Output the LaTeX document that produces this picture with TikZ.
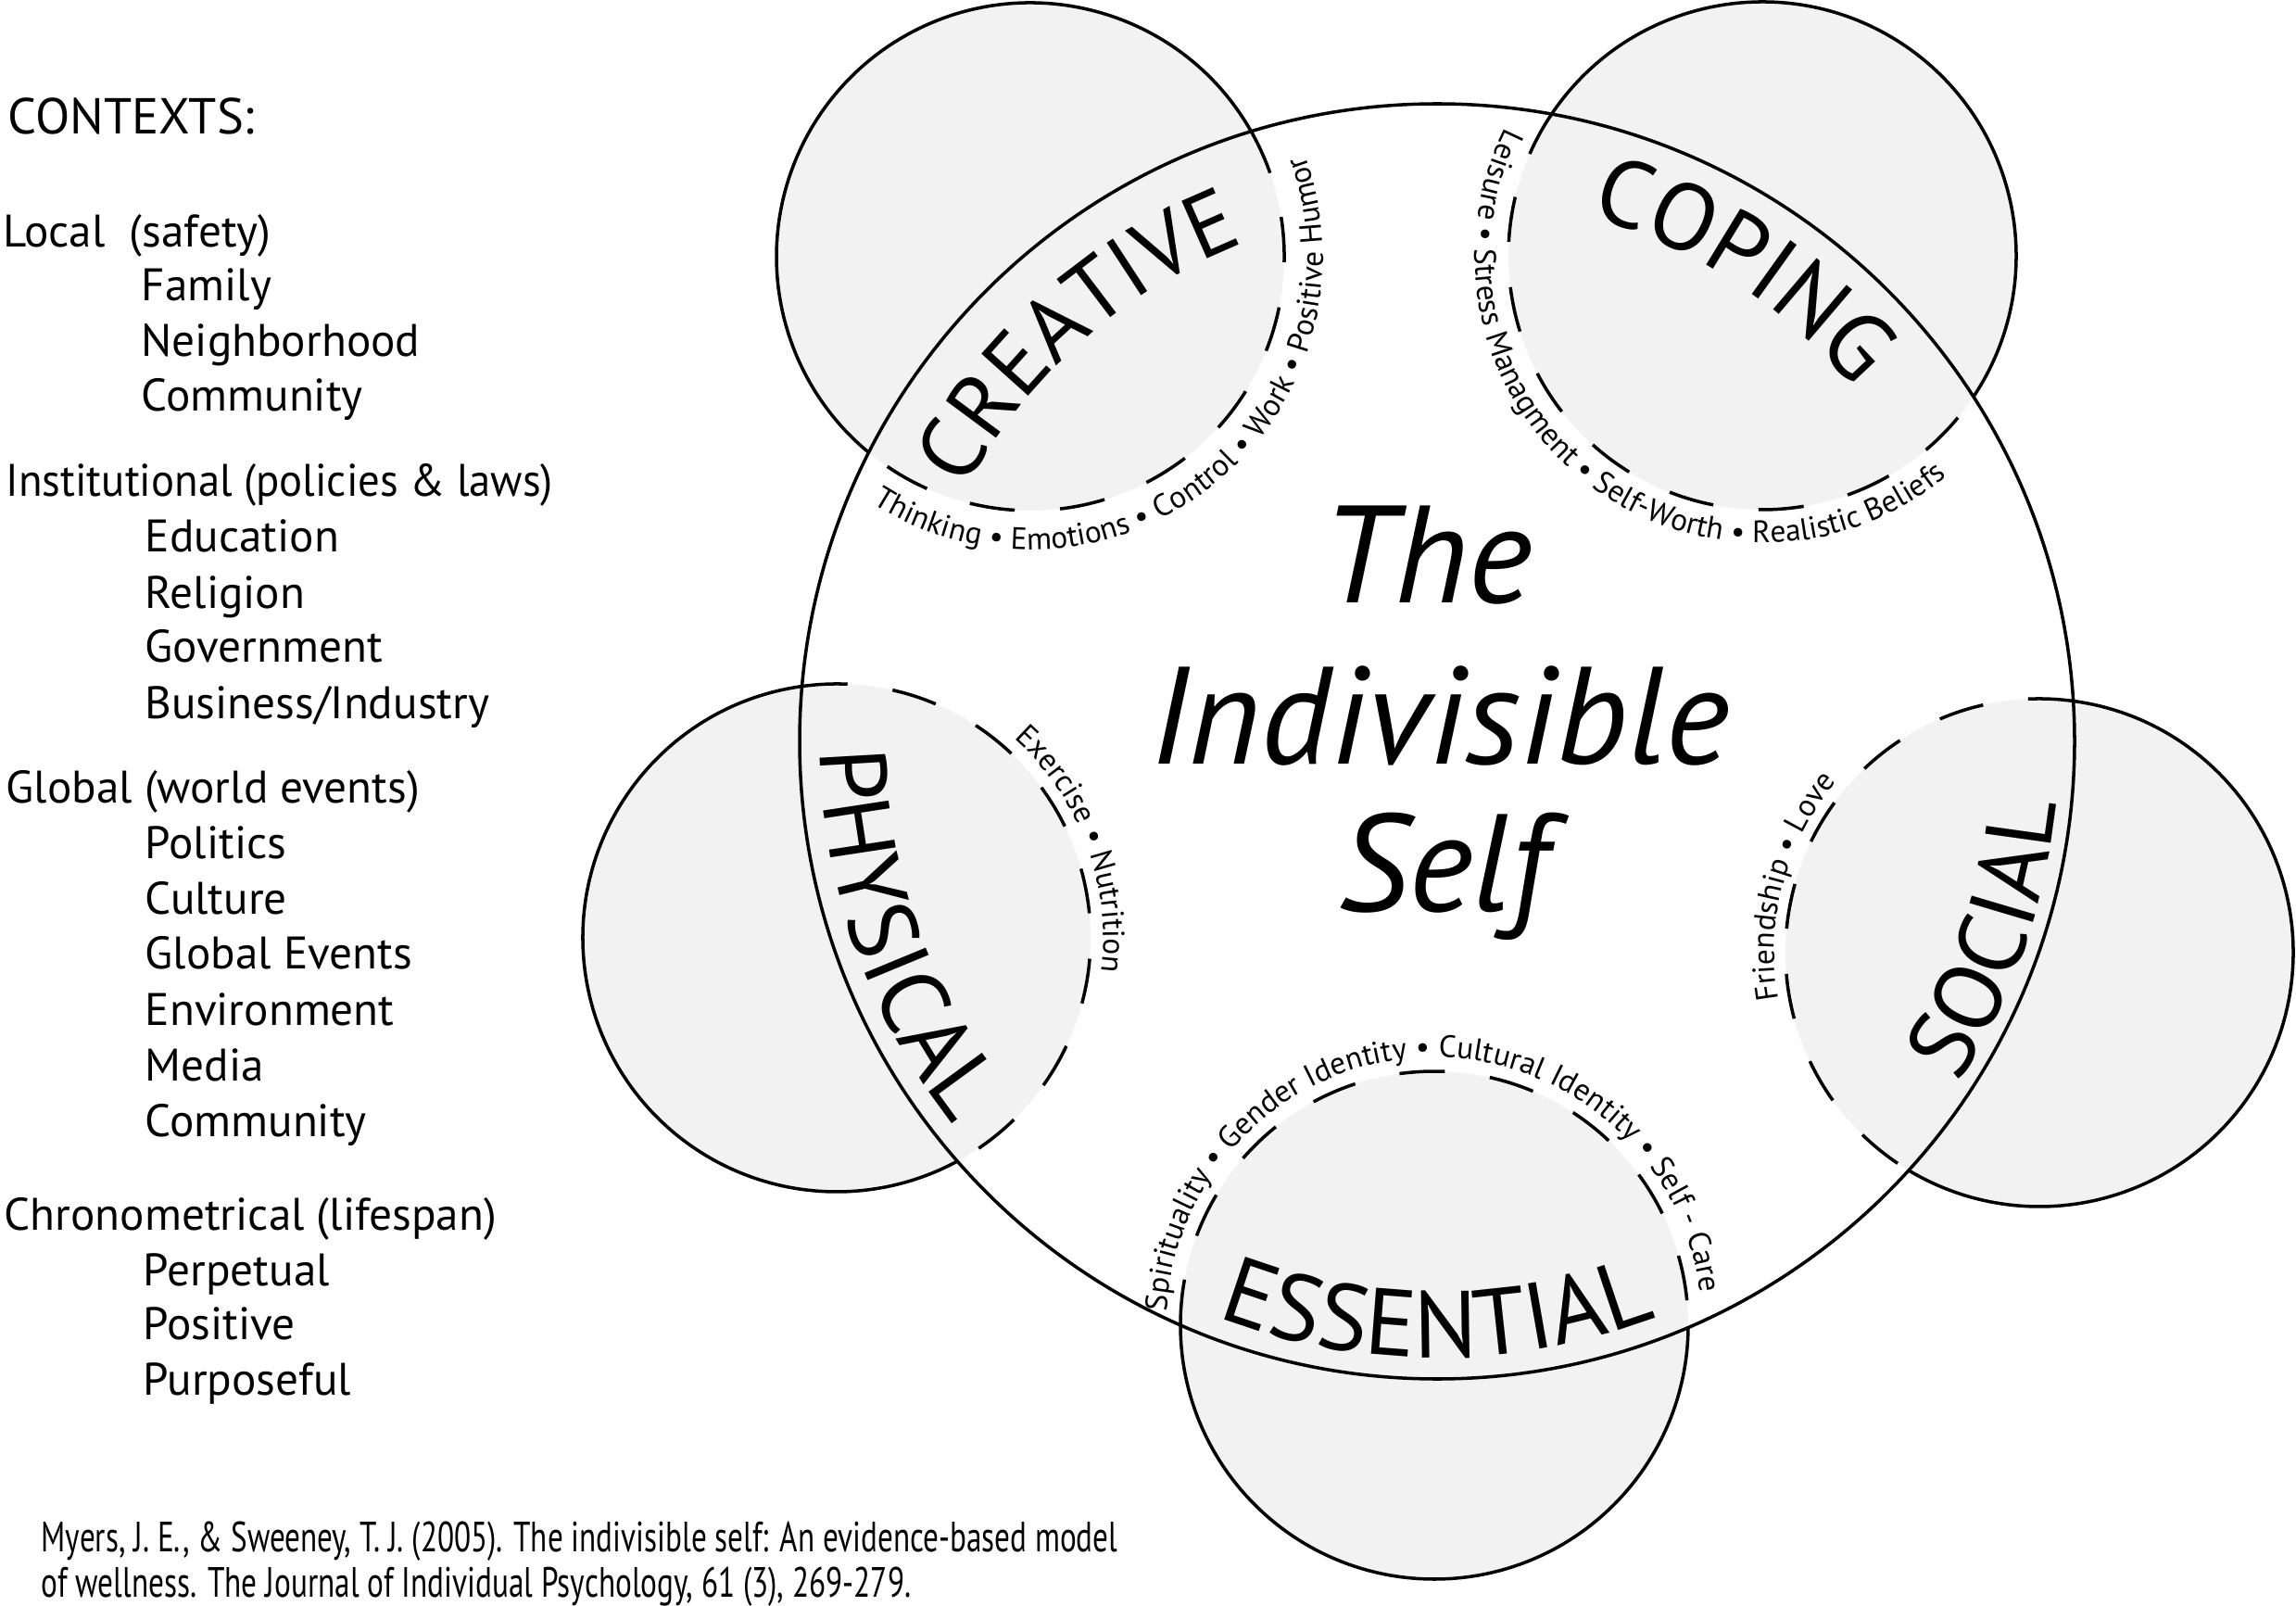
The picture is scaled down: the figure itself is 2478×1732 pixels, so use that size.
\documentclass[tikz,border=0pt]{standalone}
\usepackage{fontspec}
\setmainfont{PT Sans}
\usepackage{graphicx}
\usetikzlibrary{decorations.text}
\definecolor{cfill}{HTML}{F2F2F2}
\newcommand\bigarc{\fontsize{29}{30}\selectfont}
\newcommand\bigarcb{\fontsize{27.5}{30}\selectfont}
\newcommand\smallarc{\fontsize{9.5}{11}\selectfont}
\newcommand\ctxfont{\fontsize{14}{16}\selectfont}
\newcommand\ctxhead{\fontsize{15.5}{18}\selectfont}
\newcommand\titlefont{\fontsize{42.5}{46}\selectfont\itshape}
\newcommand\citefont{\fontsize{13}{15}\selectfont}
\begin{document}
\begin{tikzpicture}[x=0.01cm,y=0.01cm]
\tikzset{
  ring/.style={line width=1pt, draw=black},
  ringdash/.style={ring, dash pattern=on 0.49cm off 0.49cm},
  ctx/.style={anchor=base west, inner sep=0pt, font=\ctxfont},
  ttl/.style={anchor=base, inner sep=0pt, font=\titlefont},
  cite/.style={anchor=base west, inner sep=0pt, font=\citefont},
}
\fill[white] (0,0) rectangle (2478,1732);
\useasboundingbox (0,0) rectangle (2478,1732);

% centres
\coordinate (M) at (1551,932);
\coordinate (Ccr) at (1112,1455);
\coordinate (Ccp) at (1902,1456);
\coordinate (Cph) at (903,720);
\coordinate (Cso) at (2201,704);
\coordinate (Ces) at (1548,302);

% fills
\fill[cfill] (Ccr) circle[radius=274];
\fill[cfill] (Ccp) circle[radius=274];
\fill[cfill] (Cph) circle[radius=274];
\fill[cfill] (Cso) circle[radius=274];
\fill[cfill] (Ces) circle[radius=274];

% outer (solid) and inner (dashed) parts of the small circles
\draw[ring] (Ccr) ++(29.5:274) arc[start angle=29.5, end angle=230.5, radius=274];
\draw[ringdash] (Ccr) ++(29.5:274) arc[start angle=29.5, end angle=-129.5, radius=274];

\draw[ring] (Ccp) ++(146.1:274) arc[start angle=146.1, end angle=-33.7, radius=274];
\draw[ringdash] (Ccp) ++(146.1:274) arc[start angle=146.1, end angle=326.3, radius=274];

\draw[ring] (Cph) ++(97.8:274) arc[start angle=97.8, end angle=298.4, radius=274];
\draw[ringdash] (Cph) ++(97.8:274) arc[start angle=97.8, end angle=-61.6, radius=274];

\draw[ring] (Cso) ++(82.3:274) arc[start angle=82.3, end angle=-121.0, radius=274];
\draw[ringdash] (Cso) ++(82.3:274) arc[start angle=82.3, end angle=239.0, radius=274];

\draw[ring] (Ces) ++(179.9:274) arc[start angle=179.9, end angle=359.5, radius=274];
\draw[ringdash] (Ces) ++(179.9:274) arc[start angle=179.9, end angle=-0.5, radius=274];

% main circle
\draw[ring] (M) circle[radius=688];

% big labels
\path[decorate, decoration={text along path, text align=center, text={|\bigarcb|CREATIVE}}]
  (M) ++(166.5:577) arc[start angle=166.5, end angle=96.5, radius=577];
\path[decorate, decoration={text along path, text align=center, text={|\bigarc|COPING}}]
  (M) ++(92:590) arc[start angle=92, end angle=22, radius=590];
\path[decorate, decoration={text along path, text align=center, text={|\bigarc|PHYSICAL}}]
  (M) ++(164.6:666) arc[start angle=164.6, end angle=234.6, radius=666];
\path[decorate, decoration={text along path, text align=center, text={|\bigarc|SOCIAL}}]
  (M) ++(-54.5:672) arc[start angle=-54.5, end angle=15.5, radius=672];
\path[decorate, decoration={text along path, text align=center, text={|\bigarc|ESSENTIAL}}]
  (M) ++(235:665) arc[start angle=235, end angle=305, radius=665];

% small labels
\path[decorate, decoration={text along path, text align=center, text={|\smallarc|Thinking • Emotions • Control • Work • Positive Humor}}]
  (Ccr) ++(-141.2:316) arc[start angle=-141.2, end angle=38.8, radius=316];
\path[decorate, decoration={text along path, text align=center, text={|\smallarc|Leisure • Stress Managment • Self-Worth • Realistic Beliefs}}]
  (Ccp) ++(141.7:310) arc[start angle=141.7, end angle=321.7, radius=310];
\path[decorate, decoration={text along path, text align=center, text={|\smallarc|Exercise • Nutrition}}]
  (Cph) ++(80.6:288) arc[start angle=80.6, end angle=-39.4, radius=288];
\path[decorate, decoration={text along path, text align=center, text={|\smallarc|Friendship • Love}}]
  (Cso) ++(225:286) arc[start angle=225, end angle=105, radius=286];
\path[decorate, decoration={text along path, text align=center, text={|\smallarc|Spirituality • Gender Identity • Cultural Identity • Self - Care}}]
  (Ces) ++(192:289) arc[start angle=192, end angle=-8, radius=289];

% title
\node[ttl] (t1) at (1540,1081) {The};
\node[ttl] (t2) at (1554,907) {Indivisible};
\node[ttl] (t3) at (1558,749) {Self};

% contexts list
\node[ctx, font=\ctxhead] (c0) at (8,1587) {CONTEXTS:};
\node[ctx] (c1) at (3,1465) {Local~~(safety)};
\node[ctx] (c2) at (152,1407) {Family};
\node[ctx] (c3) at (152,1347) {Neighborhood};
\node[ctx] (c4) at (152,1288) {Community};
\node[ctx] (c5) at (6,1196) {\resizebox{5.90cm}{\height}{Institutional (policies \& laws)}};
\node[ctx] (c6) at (156,1136) {Education};
\node[ctx] (c7) at (156,1075) {Religion};
\node[ctx] (c8) at (156,1017) {Government};
\node[ctx] (c9) at (156,956) {Business/Industry};
\node[ctx] (c10) at (6,865) {Global (world events)};
\node[ctx] (c11) at (156,805) {Politics};
\node[ctx] (c12) at (156,745) {Culture};
\node[ctx] (c13) at (156,687) {Global Events};
\node[ctx] (c14) at (156,626) {Environment};
\node[ctx] (c15) at (156,566) {Media};
\node[ctx] (c16) at (156,506) {Community};
\node[ctx] (c17) at (4,405) {Chronometrical (lifespan)};
\node[ctx] (c18) at (154,345) {Perpetual};
\node[ctx] (c19) at (154,287) {Positive};
\node[ctx] (c20) at (154,227) {Purposeful};

% citation
\node[cite] (r1) at (44,58) {\resizebox{11.61cm}{\height}{Myers, J. E., \& Sweeney, T. J. (2005). The indivisible self: An evidence-based model}};
\node[cite] (r2) at (44,9) {\resizebox{9.38cm}{\height}{of wellness. The Journal of Individual Psychology, 61 (3), 269-279.}};
\end{tikzpicture}
\end{document}
